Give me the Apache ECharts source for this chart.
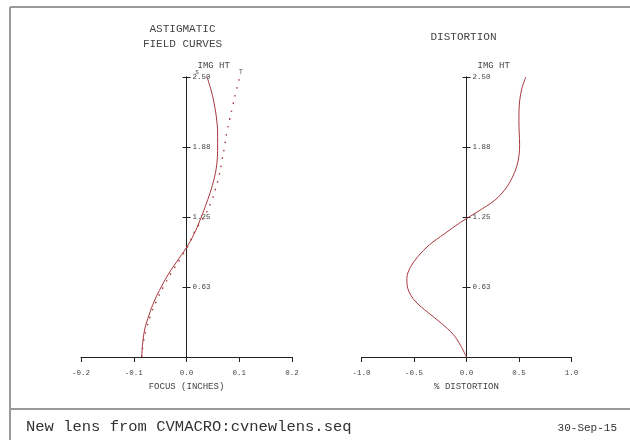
<!DOCTYPE html>
<html>
<head>
<meta charset="utf-8">
<script src="https://cdn.jsdelivr.net/npm/echarts@6/dist/echarts.min.js"></script>
<style>
  html, body { margin: 0; padding: 0; background: #fff; }
  #chart { width: 630px; height: 440px; }
</style>
</head>
<body>
<div id="chart"></div>
<script>
// Relative image height (inches) at which the field curves are sampled
const fieldHeights = [0, 0.125, 0.25, 0.375, 0.5, 0.625, 0.75, 0.875, 1.0, 1.125, 1.25,
  1.375, 1.5, 1.625, 1.75, 1.875, 2.0, 2.125, 2.25, 2.375, 2.5];
// Sagittal focus shift (inches)
const sagittalFocus = [-0.085, -0.083, -0.079, -0.071, -0.061, -0.048, -0.033, -0.015, 0.003, 0.017, 0.028,
  0.038, 0.047, 0.054, 0.058, 0.059, 0.059, 0.057, 0.053, 0.047, 0.039];
// Tangential focus shift (inches)
const tangentialFocus = [-0.085, -0.082, -0.076, -0.068, -0.057, -0.044, -0.029, -0.012, 0.004, 0.016, 0.033,
  0.046, 0.055, 0.062, 0.067, 0.072, 0.076, 0.082, 0.088, 0.094, 0.101];

// Image heights for the distortion curve
const distortionHeights = [0, 0.1, 0.2, 0.3, 0.4, 0.5, 0.6, 0.7, 0.8, 0.9, 1.0, 1.1, 1.2, 1.3,
  1.4, 1.5, 1.6, 1.7, 1.8, 1.9, 2.0, 2.1, 2.2, 2.3, 2.4, 2.5];
// Percent distortion
const distortionPct = [0, -0.055, -0.125, -0.238, -0.37, -0.49, -0.555, -0.568, -0.535, -0.46, -0.355, -0.21, -0.06, 0.11,
  0.27, 0.37, 0.435, 0.478, 0.5, 0.506, 0.502, 0.499, 0.5, 0.508, 0.528, 0.565];

// Axis tick labels
const heightTickLabels = ['', '0.63', '1.25', '1.88', '2.50'];
const focusTickLabels = ['-0.2', '-0.1', '0.0', '0.1', '0.2'];
const distortionTickLabels = ['-1.0', '-0.5', '0.0', '0.5', '1.0'];

const MONO = '"Liberation Mono", "DejaVu Sans Mono", monospace';
const CURVE = '#a8383d';
const AXIS = '#222';
const TEXT = '#444';

function pairs(xs, hs) {
  return xs.map(function (x, i) { return [x, hs[i]]; });
}
function tickLabel(list, min, step) {
  return function (v) {
    const i = Math.round((v - min) / step);
    return list[i] !== undefined ? list[i] : '';
  };
}
function curveTag(text, offset) {
  return { show: true, formatter: text, offset: offset, distance: 0,
    fontFamily: MONO, fontSize: 7, color: '#555' };
}

const gridW = [211, 210];

function xAxisFor(gi, min, max, step, labels, name) {
  return {
    type: 'value', gridIndex: gi, min: min, max: max, interval: step,
    position: 'bottom',
    axisLine: { onZero: false, lineStyle: { color: AXIS, width: 1 } },
    axisTick: { show: true, length: 5, lineStyle: { color: AXIS } },
    axisLabel: { margin: 12, fontFamily: MONO, fontSize: 7.5, color: TEXT,
      formatter: tickLabel(labels, min, step), showMinLabel: true, showMaxLabel: true },
    splitLine: { show: false },
    name: name, nameLocation: 'middle', nameGap: 25,
    nameTextStyle: { fontFamily: MONO, fontSize: 9, color: TEXT }
  };
}
// Height axis drawn at x = 0: one half carries the left tick arms, the other the right arms and labels
function yAxisPair(gi) {
  const half = -gridW[gi] / 2;
  const base = {
    type: 'value', gridIndex: gi, min: 0, max: 2.5, interval: 0.625,
    offset: half,
    axisLine: { show: true, onZero: false, lineStyle: { color: AXIS, width: 1 } },
    axisTick: { show: true, length: 4, lineStyle: { color: AXIS } },
    splitLine: { show: false }
  };
  return [
    Object.assign({}, base, { position: 'left', axisLabel: { show: false } }),
    Object.assign({}, base, {
      position: 'right',
      axisLabel: { show: true, margin: 6, fontFamily: MONO, fontSize: 7.5, color: TEXT,
        formatter: tickLabel(heightTickLabels, 0, 0.625) },
      name: 'IMG HT', nameLocation: 'end', nameGap: 7,
      nameTextStyle: { fontFamily: MONO, fontSize: 9, color: TEXT, align: 'left', padding: [0, 0, 0, 11] }
    })
  ];
}

const chart = echarts.init(document.getElementById('chart'), null, { renderer: 'canvas' });

chart.setOption({
  animation: false,
  backgroundColor: '#fff',
  grid: [
    { left: 81, top: 77, width: gridW[0], height: 280 },
    { left: 361.5, top: 77, width: gridW[1], height: 280 }
  ],
  xAxis: [
    xAxisFor(0, -0.2, 0.2, 0.1, focusTickLabels, 'FOCUS (INCHES)'),
    xAxisFor(1, -1.0, 1.0, 0.5, distortionTickLabels, '% DISTORTION')
  ],
  yAxis: yAxisPair(0).concat(yAxisPair(1)),
  series: [
    {
      name: 'S', type: 'line', xAxisIndex: 0, yAxisIndex: 0,
      data: pairs(sagittalFocus, fieldHeights),
      showSymbol: false, symbol: 'none', smooth: 0.4,
      lineStyle: { color: CURVE, width: 1 },
      endLabel: curveTag('s', [-12, -5])
    },
    {
      name: 'T', type: 'line', xAxisIndex: 0, yAxisIndex: 0,
      data: pairs(tangentialFocus, fieldHeights),
      showSymbol: false, symbol: 'none', smooth: 0.4,
      lineStyle: { color: CURVE, width: 1.4, type: [1.5, 6.5] },
      endLabel: curveTag('T', [-1, -5])
    },
    {
      name: 'Distortion', type: 'line', xAxisIndex: 1, yAxisIndex: 2,
      data: pairs(distortionPct, distortionHeights),
      showSymbol: false, symbol: 'none', smooth: 0.35,
      lineStyle: { color: CURVE, width: 1 }
    }
  ],
  graphic: [
    // page frame and footer rule
    { type: 'line', shape: { x1: 10, y1: 7, x2: 630, y2: 7 }, style: { stroke: '#9a9a9a', lineWidth: 2 } },
    { type: 'line', shape: { x1: 10, y1: 7, x2: 10, y2: 440 }, style: { stroke: '#9a9a9a', lineWidth: 2 } },
    { type: 'line', shape: { x1: 10, y1: 409, x2: 630, y2: 409 }, style: { stroke: '#9a9a9a', lineWidth: 2 } },
    // plot titles
    { type: 'text', x: 182.5, y: 29, style: { text: 'ASTIGMATIC', align: 'center', verticalAlign: 'middle',
      font: '11px ' + MONO, fill: TEXT } },
    { type: 'text', x: 182.5, y: 44, style: { text: 'FIELD CURVES', align: 'center', verticalAlign: 'middle',
      font: '11px ' + MONO, fill: TEXT } },
    { type: 'text', x: 463.5, y: 37, style: { text: 'DISTORTION', align: 'center', verticalAlign: 'middle',
      font: '11px ' + MONO, fill: TEXT } },
    // footer
    { type: 'text', x: 26, y: 427, style: { text: 'New lens from CVMACRO:cvnewlens.seq', align: 'left',
      verticalAlign: 'middle', font: '15.5px ' + MONO, fill: '#333' } },
    { type: 'text', x: 617, y: 428, style: { text: '30-Sep-15', align: 'right',
      verticalAlign: 'middle', font: '11px ' + MONO, fill: '#333' } }
  ]
});
</script>
</body>
</html>
